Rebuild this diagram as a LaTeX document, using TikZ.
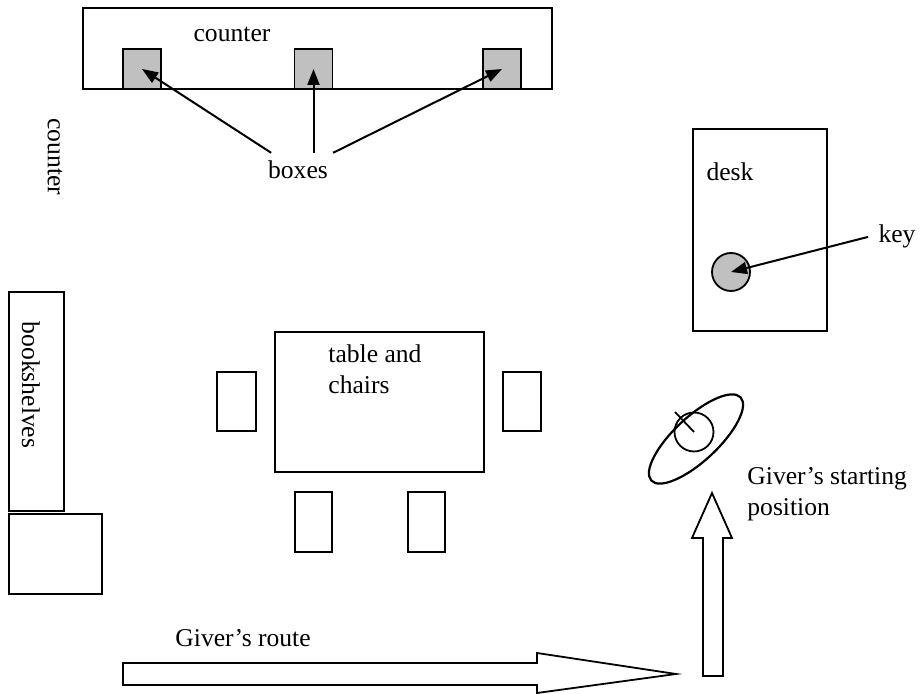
\documentclass[tikz,border=0pt]{standalone}
\usepackage{fontspec}
\setmainfont{Liberation Serif}
\usetikzlibrary{arrows.meta,shapes.geometric,positioning}
\definecolor{boxgray}{RGB}{192,192,192}
\tikzset{
    furniture/.style = {draw=black,
                    line width=0.9pt},
    box/.style =    {rectangle,
                    fill=boxgray,
                    draw=black,
                    line width=0.9pt,
                    minimum width=19pt,
                    minimum height=20pt,
                    inner sep=0pt},
    keydisc/.style = {circle,
                    fill=boxgray,
                    draw=black,
                    line width=0.9pt,
                    minimum size=19pt,
                    inner sep=0pt},
    giverhead/.style = {circle,
                    draw=black,
                    line width=0.9pt,
                    minimum size=19.5pt,
                    inner sep=0pt},
    giverbody/.style = {ellipse,
                    draw=black,
                    line width=1.1pt,
                    minimum width=61pt,
                    minimum height=22pt,
                    inner sep=0pt,
                    rotate=43},
    -,
    txt/.style =    {font=\fontsize{12.8}{15.5}\selectfont,
                    text=black,
                    inner sep=0pt},
    pointer/.style = {-{Triangle[length=8pt,width=6pt]},
                    line width=1pt},
    bigarrow/.style = {draw=black,
                    line width=0.9pt,
                    line join=miter}}

\begin{document}
\begin{tikzpicture}[x=0.5pt,y=-0.5pt]
    \useasboundingbox (0,0) rectangle (922,694);
    % counter with the boxes
    \draw[furniture] (83,8) rectangle (552,89);
    \node[txt, anchor=base]     (countertop) at (232,42)  {counter};
    \node[box]                  (b1) at (142,69)          {};
    \node[box]                  (b2) at (313.5,69)        {};
    \node[box]                  (b3) at (502,69)          {};
    \node[txt, anchor=base, inner sep=4pt] (boxes) at (298,179) {boxes};
    \path [pointer]     (boxes)             edge (b1.center)
                        (boxes.north -| b2) edge (b2.center)
                        (boxes)             edge (b3.center);
    \node[txt, rotate=-90]      (counterside) at (55,157) {counter};
    % desk and key
    \draw[furniture] (693,129) rectangle (827,331);
    \node[txt, anchor=base]     (desk) at (730,181)       {desk};
    \node[keydisc]              (key) at (731,272)        {};
    \node[txt, anchor=base, inner sep=5pt] (keylbl) at (897,243) {key};
    \draw[pointer] (keylbl.west) -- (key.center);
    % table and chairs
    \draw[furniture] (275,332) rectangle (484,472);
    \draw[furniture] (217,372) rectangle (256,431);
    \draw[furniture] (503,372) rectangle (541,431);
    \draw[furniture] (295,492) rectangle (332,552);
    \draw[furniture] (408,492) rectangle (445,552);
    \node[txt, anchor=base west, align=left] (table) at (328,394) {table and\\chairs};
    % bookshelves
    \draw[furniture] (9,292) rectangle (64,511);
    \draw[furniture] (9,514) rectangle (102,594);
    \node[txt, rotate=-90]      (shelves) at (31,385)     {bookshelves};
    % giver
    \node[giverbody]            (body) at (696,439)       {};
    \node[giverhead]            (head) at (694,432)       {};
    \coordinate                 (nose) at (675,412);
    \draw[furniture] (head.center) -- (nose);
    \node[txt, anchor=base west, align=left] (start) at (747,516) {Giver's starting\\position};
    % route
    \draw[bigarrow] (123,663) -- (537,663) -- (537,653) -- (676,674) -- (537,693)
                    -- (537,685) -- (123,685) -- cycle;
    \draw[bigarrow] (703,676) -- (703,538) -- (692,538) -- (712,493) -- (732,538)
                    -- (723,538) -- (723,676) -- cycle;
    \node[txt, anchor=base west] (route) at (175,647) {Giver's route};
\end{tikzpicture}
\end{document}
